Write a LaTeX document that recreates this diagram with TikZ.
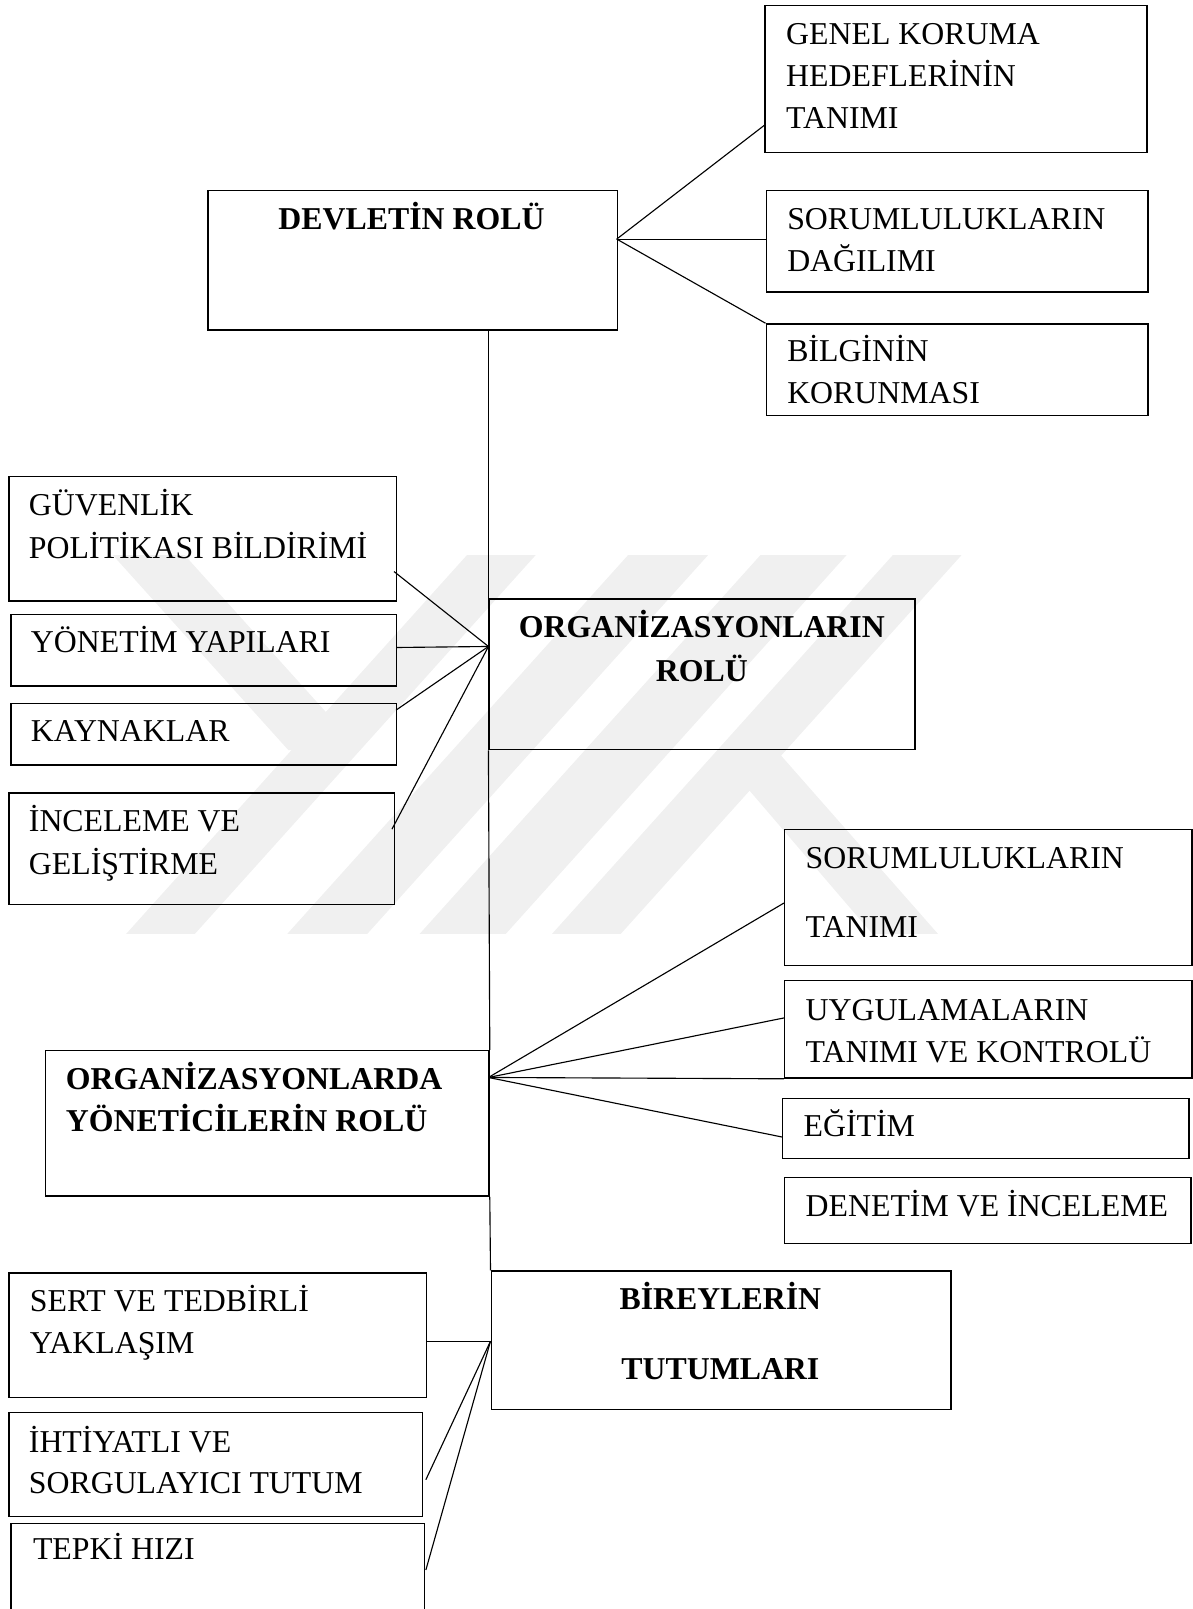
\documentclass[tikz,border=0pt]{standalone}
\usepackage{fontspec}
\setmainfont{Liberation Serif}
\begin{document}
\begin{tikzpicture}[x=1pt,y=-1pt,
  box/.style={draw, line width=1.3pt, anchor=north west, inner sep=0pt},
  txt/.style={anchor=base west, inner sep=0pt, font=\fontsize{31}{41}\selectfont},
  ctxt/.style={anchor=base, inner sep=0pt, font=\fontsize{31}{41}\selectfont\bfseries},
  btxt/.style={anchor=base west, inner sep=0pt, font=\fontsize{31}{41}\selectfont\bfseries},
  conn/.style={line width=1.1pt},
  wm/.style={fill=black!6, draw=none}]
\useasboundingbox (0,0) rectangle (1162,1568);
% faint watermark
\fill[wm] (455,541) -- (522,541) -- (190,910) -- (123,910) -- cycle;
\fill[wm] (612,541) -- (690,541) -- (358,910) -- (280,910) -- cycle;
\fill[wm] (741,541) -- (825,541) -- (493,910) -- (409,910) -- cycle;
\fill[wm] (870,541) -- (937,541) -- (605,910) -- (538,910) -- cycle;
\fill[wm] (110,541) -- (180,541) -- (351,731) -- (281,731) -- cycle;
\fill[wm] (700,735) -- (760,735) -- (914,910) -- (850,910) -- cycle;
% boxes
\node[box, minimum width=372pt, minimum height=143pt] (genel) at (745,5) {};
\node[box, minimum width=399pt, minimum height=136pt] (devlet) at (202,185) {};
\node[box, minimum width=372pt, minimum height=99pt] (sordag) at (746,185) {};
\node[box, minimum width=372pt, minimum height=89pt] (bilgi) at (746,315) {};
\node[box, minimum width=378pt, minimum height=121pt] (guv) at (8,464) {};
\node[box, minimum width=376pt, minimum height=70pt] (yon) at (10,598) {};
\node[box, minimum width=376pt, minimum height=60pt] (kay) at (10,685) {};
\node[box, minimum width=376pt, minimum height=109pt] (inc) at (8,772) {};
\node[box, minimum width=415pt, minimum height=147pt] (org) at (476,583) {};
\node[box, minimum width=397pt, minimum height=132pt] (sortan) at (764,808) {};
\node[box, minimum width=397pt, minimum height=95pt] (uyg) at (764,955) {};
\node[box, minimum width=396pt, minimum height=58pt] (egt) at (762,1070) {};
\node[box, minimum width=396pt, minimum height=64pt] (den) at (764,1147) {};
\node[box, minimum width=432pt, minimum height=142pt] (yonet) at (44,1023) {};
\node[box, minimum width=448pt, minimum height=135pt] (birey) at (478,1238) {};
\node[box, minimum width=407pt, minimum height=121pt] (sert) at (8,1240) {};
\node[box, minimum width=403pt, minimum height=101pt] (iht) at (8,1376) {};
\node[box, minimum width=403pt, minimum height=110pt] (tepki) at (10,1484) {};
% texts
\node[txt] (genel1) at (766,43) {GENEL KORUMA};
\node[txt] (genel2) at (766,84) {HEDEFLERİNİN};
\node[txt] (genel3) at (766,125) {TANIMI};
\node[ctxt] (devlet1) at (401,224) {DEVLETİN ROLÜ};
\node[txt] (sordag1) at (767,224) {SORUMLULUKLARIN};
\node[txt] (sordag2) at (767,265) {DAĞILIMI};
\node[txt] (bilgi1) at (767,352) {BİLGİNİN};
\node[txt] (bilgi2) at (767,393) {KORUNMASI};
\node[txt] (guv1) at (28,502) {GÜVENLİK};
\node[txt] (guv2) at (28,544) {POLİTİKASI BİLDİRİMİ};
\node[txt] (yon1) at (30,636) {YÖNETİM YAPILARI};
\node[txt] (kay1) at (30,723) {KAYNAKLAR};
\node[txt] (inc1) at (28,810) {İNCELEME VE};
\node[txt] (inc2) at (28,852) {GELİŞTİRME};
\node[ctxt] (org1) at (684,621) {ORGANİZASYONLARIN};
\node[ctxt] (org2) at (684,664) {ROLÜ};
\node[txt] (sortan1) at (785,846) {SORUMLULUKLARIN};
\node[txt] (sortan2) at (785,914) {TANIMI};
\node[txt] (uyg1) at (785,994) {UYGULAMALARIN};
\node[txt] (uyg2) at (785,1035) {TANIMI VE KONTROLÜ};
\node[txt] (egt1) at (783,1108) {EĞİTİM};
\node[txt] (den1) at (785,1185) {DENETİM VE İNCELEME};
\node[btxt] (yonet1) at (64,1062) {ORGANİZASYONLARDA};
\node[btxt] (yonet2) at (64,1103) {YÖNETİCİLERİN ROLÜ};
\node[ctxt] (birey1) at (702,1276) {BİREYLERİN};
\node[ctxt] (birey2) at (702,1344) {TUTUMLARI};
\node[txt] (sert1) at (29,1278) {SERT VE TEDBİRLİ};
\node[txt] (sert2) at (29,1319) {YAKLAŞIM};
\node[txt] (iht1) at (28,1415) {İHTİYATLI VE};
\node[txt] (iht2) at (28,1455) {SORGULAYICI TUTUM};
\node[txt] (tepki1) at (32,1520) {TEPKİ HIZI};
% connector points
\coordinate (dvP) at (601,233);
\coordinate (orgP) at (476,630);
\coordinate (yP) at (476,1050);
\coordinate (bP) at (478,1307);
\coordinate (genelE) at (745,122);
\coordinate (sordagE) at (746,233);
\coordinate (guvE) at (384,557);
\coordinate (yonE) at (386,631);
\coordinate (kayE) at (386,692);
\coordinate (incE) at (382,808);
\coordinate (sortanE) at (764,880);
\coordinate (uygE) at (764,992);
\coordinate (egtE) at (762,1108);
\coordinate (sertE) at (415,1307);
\coordinate (ihtE) at (415,1442);
\coordinate (tepkiE) at (415,1530);
% spine
\draw[conn] (devlet.south -| org.west) -- (org.north west);
\draw[conn] (org.south west) -- (yonet.north east);
\draw[conn] (yonet.south east) -- (birey.north west);
% connectors
\draw[conn] (dvP) -- (genelE);
\draw[conn] (dvP) -- (sordagE);
\draw[conn] (dvP) -- (bilgi.north west);
\draw[conn] (orgP) -- (guvE);
\draw[conn] (orgP) -- (yonE);
\draw[conn] (orgP) -- (kayE);
\draw[conn] (orgP) -- (incE);
\draw[conn] (yP) -- (sortanE);
\draw[conn] (yP) -- (uygE);
\draw[conn] (yP) -- (uyg.south west);
\draw[conn] (yP) -- (egtE);
\draw[conn] (bP) -- (sertE);
\draw[conn] (bP) -- (ihtE);
\draw[conn] (bP) -- (tepkiE);
\end{tikzpicture}
\end{document}
